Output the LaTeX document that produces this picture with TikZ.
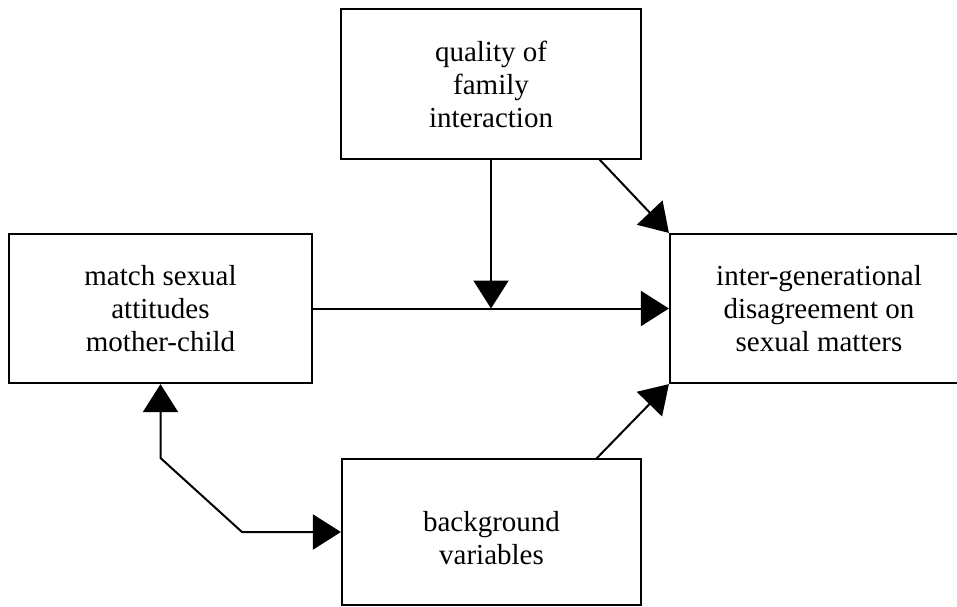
\documentclass[tikz,border=0pt]{standalone}
\usepackage{fontspec}
\setmainfont{Liberation Serif}
\usetikzlibrary{arrows.meta}
\tikzset{
  box/.style={draw, line width=2.2pt, inner sep=0pt, align=center,
    font=\fontsize{29}{33}\selectfont},
  conn/.style={line width=2pt},
  tip/.tip={Triangle[length=28pt,width=35pt]}
}
\begin{document}
\begin{tikzpicture}[x=1pt,y=-1pt]
\useasboundingbox (0,0) rectangle (957,606);
\clip (0,0) rectangle (957,606);
\fill[white] (0,0) rectangle (957,606);
\node[box, minimum width=300pt, minimum height=150pt] (top) at (491,84)
  {quality of\\family\\interaction};
\node[box, minimum width=303pt, minimum height=149pt] (left) at (160.5,308.5)
  {match sexual\\attitudes\\mother-child};
\node[box, minimum width=298pt, minimum height=149pt] (right) at (819,308.5)
  {inter-generational\\disagreement on\\sexual matters};
\node[box, minimum width=299pt, minimum height=146pt] (bottom) at (491.5,532)
  {\rule{0pt}{32pt}background\\variables};
\coordinate (mid) at (491,308.5);
\coordinate (k1) at (160.5,458);
\coordinate (k2) at (242,532);
\coordinate (tstart) at (599,159);
\coordinate (bstart) at (596,459);
% connectors
\draw[conn,-tip] (top.south) -- (mid);
\draw[conn,-tip] (left.east) -- (right.west);
\draw[conn,-tip] (tstart) -- (right.north west);
\draw[conn,-tip] (bstart) -- (right.south west);
\draw[conn,tip-tip] (left.south) -- (k1) -- (k2) -- (bottom.west);
\end{tikzpicture}
\end{document}
